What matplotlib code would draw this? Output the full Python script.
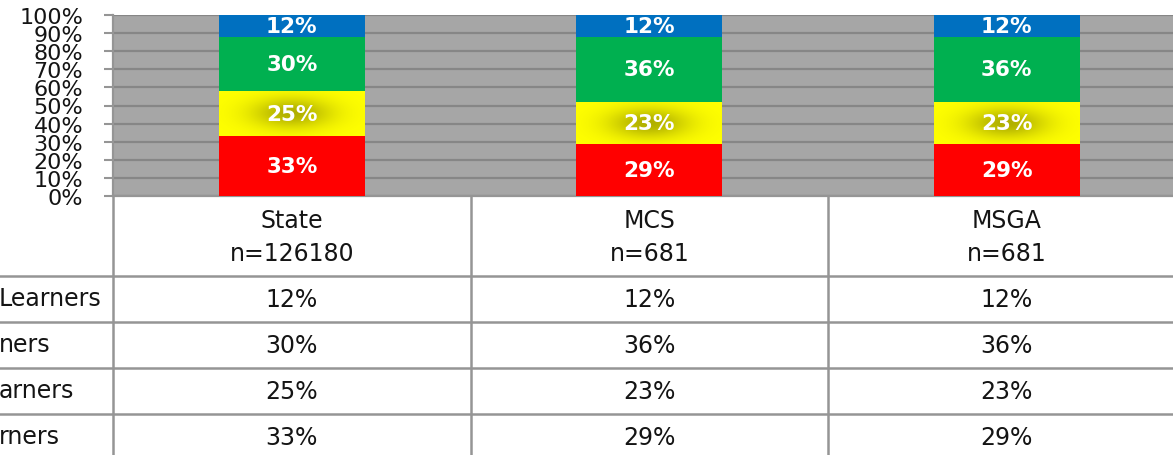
import numpy as np
import matplotlib
matplotlib.use('Agg')
import matplotlib.pyplot as plt
from matplotlib.transforms import blended_transform_factory

# ---------------- data ----------------
categories = ['State', 'MCS', 'MSGA']
sample_sizes = ['n=126180', 'n=681', 'n=681']
# row labels of the data table (cropped at the left edge in the reference), top to bottom
row_labels = ['Learners', 'ners', 'arners', 'rners']
blue_vals = [12, 12, 12]
green_vals = [30, 36, 36]
yellow_vals = [25, 23, 23]
red_vals = [33, 29, 29]
y_ticks = [0, 10, 20, 30, 40, 50, 60, 70, 80, 90, 100]
y_tick_labels = ['0%', '10%', '20%', '30%', '40%', '50%', '60%', '70%', '80%', '90%', '100%']

# ---------------- style ----------------
C_BLUE, C_GREEN, C_YELLOW, C_RED = '#0070C0', '#00B050', '#FFFF00', '#FF0000'
BG = '#A6A6A6'
GRID = '#868686'
LINE = '#959595'
TXT = '#141414'
plt.rcParams['font.family'] = ['DejaVu Sans']

W, H = 1173, 456
fig = plt.figure(figsize=(W / 100, H / 100), dpi=100)
fig.patch.set_facecolor('white')

cat_w = 357.5
ax_left, ax_top, ax_bottom = 113, 16, 197
ax = fig.add_axes([ax_left / W, (H - ax_bottom) / H, 3 * cat_w / W, (ax_bottom - ax_top) / H])
ax.set_facecolor(BG)
ax.set_xlim(-0.5, 2.5)
ax.set_ylim(0, 100)
ax.set_yticks(y_ticks)
ax.set_yticklabels(y_tick_labels)
ax.yaxis.grid(True, color=GRID, lw=1.6)
ax.set_axisbelow(True)
for s in ['top', 'right']:
    ax.spines[s].set_visible(False)
for s in ['left', 'bottom']:
    ax.spines[s].set_color(LINE)
    ax.spines[s].set_linewidth(1.6)
ax.tick_params(axis='y', direction='out', length=6.5, width=1.5, color=LINE,
               labelsize=16, pad=15, labelcolor=TXT)
ax.tick_params(axis='x', bottom=False, labelbottom=False)

x = np.arange(len(categories))
bw = 0.408
series = [(red_vals, C_RED), (yellow_vals, C_YELLOW), (green_vals, C_GREEN), (blue_vals, C_BLUE)]
bottom = np.zeros(len(categories))
px_x = cat_w          # pixels per x data unit
px_y = (ax_bottom - ax_top) / 100.0  # pixels per % unit
for vals, col in series:
    vals = np.array(vals, dtype=float)
    ax.bar(x, vals, bottom=bottom, width=bw, color=col, linewidth=0, zorder=3)
    for xi, b, v in zip(x, bottom, vals):
        yc = b + v / 2
        if col == C_YELLOW:
            # dark glow behind the label (as in the reference)
            gx = np.linspace(xi - bw / 2, xi + bw / 2, 240)
            gy = np.linspace(b, b + v, 120)
            GX, GY = np.meshgrid(gx, gy)
            d = ((GX - xi) * px_x / 40.0) ** 2 + ((GY - yc) * px_y / 15.0) ** 2
            alpha = 0.5 * np.exp(-d)
            img = np.zeros(GX.shape + (4,))
            img[..., 0] = 0.38
            img[..., 1] = 0.37
            img[..., 2] = 0.0
            img[..., 3] = alpha
            ax.imshow(img, extent=[xi - bw / 2, xi + bw / 2, b, b + v], origin='lower',
                      aspect='auto', interpolation='bilinear', zorder=4)
        ax.text(xi, yc, f'{int(v)}%', ha='center', va='center', color='white',
                fontsize=15.5, fontweight='bold', zorder=5)
    bottom = bottom + vals
ax.set_xlim(-0.5, 2.5)
ax.set_ylim(0, 100)

# ---------------- data table ----------------
tab_bottom_px = 461
tax = fig.add_axes([ax_left / W, (H - tab_bottom_px) / H, 3 * cat_w / W, (tab_bottom_px - ax_bottom) / H])
tax.set_xlim(-0.5, 2.5)
tax.set_ylim(5.75, 0)
tax.axis('off')

ytr = tax.get_yaxis_transform()
left_ax = -ax_left / (3 * cat_w) - 0.01
for yl in [1.75, 2.75, 3.75, 4.75]:
    tax.plot([left_ax, 1.02], [yl, yl], color=LINE, lw=1.8, transform=ytr, clip_on=False)
for xl in [-0.5, 0.5, 1.5, 2.5]:
    tax.plot([xl, xl], [0, 5.75], color=LINE, lw=1.8, clip_on=False)

for i, (c, n) in enumerate(zip(categories, sample_sizes)):
    tax.text(i, 0.53, c, ha='center', va='center', fontsize=17, color=TXT)
    tax.text(i, 1.24, n, ha='center', va='center', fontsize=17, color=TXT)

table_rows = [blue_vals, green_vals, yellow_vals, red_vals]
for r, vals in enumerate(table_rows):
    yc = 2.25 + r
    for i, v in enumerate(vals):
        tax.text(i, yc, f'{v}%', ha='center', va='center', fontsize=17, color=TXT)

lab_tr = blended_transform_factory(fig.transFigure, tax.transData)
for r, lab in enumerate(row_labels):
    tax.text(-0.001, 2.22 + r, lab, ha='left', va='center', fontsize=17, color=TXT,
             transform=lab_tr, clip_on=False)

fig.savefig('out.png', dpi=100, facecolor='white')
